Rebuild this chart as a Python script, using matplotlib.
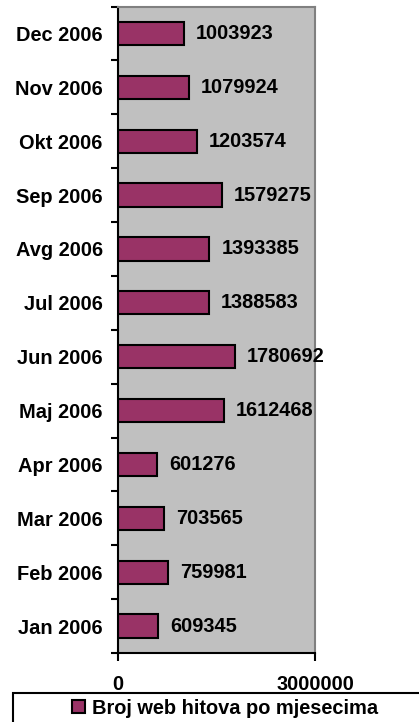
import matplotlib
matplotlib.use("Agg")
import matplotlib.pyplot as plt
from matplotlib.patches import Patch, Rectangle

plt.rcParams['font.family'] = ['Liberation Sans', 'DejaVu Sans']

months = ["Jan 2006", "Feb 2006", "Mar 2006", "Apr 2006", "Maj 2006", "Jun 2006",
          "Jul 2006", "Avg 2006", "Sep 2006", "Okt 2006", "Nov 2006", "Dec 2006"]
hits = [609345, 759981, 703565, 601276, 1612468, 1780692,
        1388583, 1393385, 1579275, 1203574, 1079924, 1003923]
series_name = "Broj web hitova po mjesecima"
x_ticks = [0, 3000000]

W, H = 419, 722
fig = plt.figure(figsize=(W / 100, H / 100), dpi=100)
ax = fig.add_axes([118 / W, 1 - 653 / H, 197 / W, (653 - 6.5) / H])
ax.set_facecolor("#C0C0C0")

bar_color = "#993366"
pos = list(range(len(months)))
bars = ax.barh(pos, hits, height=0.43, color=bar_color, edgecolor="black", linewidth=1.5)
ax.bar_label(bars, labels=[str(v) for v in hits], padding=8.5,
             fontsize=14.4, fontweight="bold", clip_on=False)

ax.set_xlim(0, 3000000)
ax.set_ylim(-0.5, len(months) - 0.5)

# category labels centred, tick marks on slot boundaries (Excel style)
ax.set_yticks(pos)
ax.set_yticklabels(months, fontsize=14.4, fontweight="bold")
ax.set_yticks([p - 0.5 for p in range(len(months) + 1)], minor=True)
ax.tick_params(axis="y", which="major", length=0, pad=11)
ax.tick_params(axis="y", which="minor", length=5, width=1.5, direction="out")

ax.set_xticks(x_ticks)
ax.set_xticklabels([str(t) for t in x_ticks], fontsize=14.4, fontweight="bold")
ax.tick_params(axis="x", length=6, width=1.5, direction="out", pad=10)

for side in ["left", "bottom"]:
    ax.spines[side].set_color("black")
    ax.spines[side].set_linewidth(1.5)
for side in ["top", "right"]:
    ax.spines[side].set_color("#808080")
    ax.spines[side].set_linewidth(1.5)

# legend box, cut off by the figure edge like in the original
fig.add_artist(Rectangle((13 / W, -0.05), 1.0, (722 - 693) / H + 0.05,
                         transform=fig.transFigure, fill=False,
                         edgecolor="black", linewidth=1.5, clip_on=False))
handle = Patch(facecolor=bar_color, edgecolor="black", linewidth=1.5)
fig.legend([handle], [series_name], loc="center",
           bbox_to_anchor=(225 / W, 1 - 708 / H), frameon=False,
           borderpad=0, handlelength=0.65, handleheight=0.65,
           handletextpad=0.35, prop={"size": 14.4, "weight": "bold"})

fig.savefig("out.png", dpi=100)
